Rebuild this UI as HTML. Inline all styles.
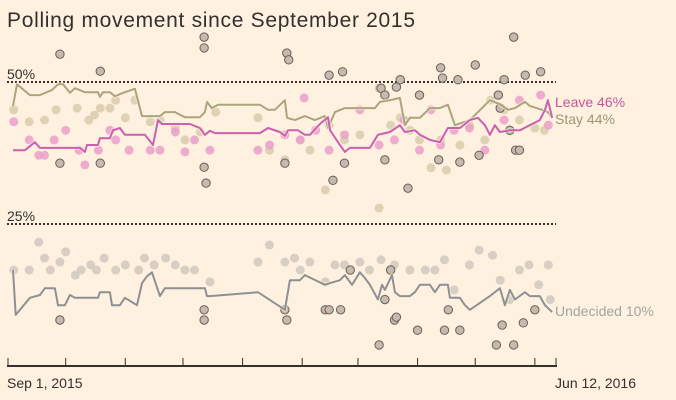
<!DOCTYPE html>
<html><head><meta charset="utf-8"><style>
html,body{margin:0;padding:0;background:#fff1e0;}
svg{display:block;font-family:"Liberation Sans",sans-serif;}
</style></head><body>
<svg id="chart" width="676" height="400" viewBox="0 0 676 400" xmlns="http://www.w3.org/2000/svg">
<rect width="676" height="400" fill="#fff1e0"/>
<text x="7" y="27" font-size="21" fill="#33302e" textLength="408">Polling movement since September 2015</text>
<g id="grid"></g><g id="dots"></g><g id="lines"></g><g id="axis"></g>
</svg>
<script>
// x: days since Sep 1 2015, y: percent
const stayLineDays=[2.6,4.7,11.4,16.6,22.9,26,28.6,32.2,34.8,40,46.8,47.8,49.4,53,55.6,60.8,66,69.7,79,81.6,86.8,92,99.8,102.4,103.5,106,109.2,131,135.2,138.8,144,145.1,149.2,154.4,159.6,164.8,166.4,170,175.2,190.8,193.4,198.6,203.8,206.4,209,214.2,219.4,224.6,228.8,232.4,240.2,250.6,255.8,260,263.6,268.8,271.4,277.7,280.8,283];
const stayLineVals=[45.8,49.6,47.7,47.7,48.6,49.6,49.6,48.1,48.9,48.2,48.2,47.4,48.2,48.2,47.5,48.2,48.8,44,44,44.7,44.7,43.8,43.8,44.7,46.5,45.4,46,46,45.1,45.1,46.8,43.7,43.3,44,43.3,44,41.9,44.7,45.4,45.4,46.5,46.8,47.2,42.4,43.7,43.7,45.4,45.4,46,42.4,43.3,46.8,46.1,45.1,45.4,46.5,45.8,45.1,44.7,43.7];
const leaveLineDays=[2.6,8.8,14,16.6,37.4,40,41.1,46.8,47.8,53,54.6,58.2,60.8,71.2,75.4,78,80.1,94.6,99.8,102.4,105,107.6,131,135.2,141.4,144,145.6,150.8,154.4,157,162.2,166.4,167.5,172.6,175.2,177.8,188.2,192.4,198.6,203.8,206.4,211.6,214.2,219.4,224.6,228.8,235,240.2,244.4,248,250.6,253.2,255.8,261,266.2,271.4,276.6,279.3,280.8,283];
const leaveLineVals=[38,38,39.4,38.4,38.4,37.7,38.9,38.9,40.1,40.1,41.5,41.9,40.7,40.7,38.9,43.3,42.6,42.6,41.9,40.7,41.4,41,41,41.9,41.2,40.5,41.5,41.5,40.7,40.7,42.6,43.8,41.5,38.9,37.7,38.4,38.4,40.7,41.2,42.4,41.2,41.5,40.7,39.8,39.4,41.9,41.9,43.3,43.7,42.4,40.7,42.4,41.2,41.5,41.5,42.4,43.3,45.1,46.8,43.7];
const undLineDays=[2.6,4,11.4,16.6,19.2,24.4,26,29.6,32.2,34.8,46.8,47.8,53,54.1,58.2,60.8,67.1,69.7,72.3,74.9,79,81.6,102.4,103.5,105,130,144,146.6,151.8,154.4,164.8,167.5,172.6,175.2,178.9,183,185.6,188.2,192.4,194.5,196,199.7,201.2,203.8,209,211.6,214.2,219.4,222,224.6,228.8,229.8,235,237.6,240.2,250.6,255.8,258.4,261,263.6,268.8,271.4,276.6,279.3,281.8,283];
const undLineVals=[16.9,9,12,12.5,13.7,13.7,10.7,10.7,12.5,12,12,13,13,10.7,10.7,12,10.7,14.6,15.8,16.5,12.3,13.7,13.7,12.3,12.3,13,9.9,15.1,15.1,16,14.3,14.6,15.1,16,14.3,16.5,15.5,14.3,11.7,14.3,13.4,16,13,12.3,12.3,13,14.3,14.3,13,14.3,14.3,12,12,10.7,9.9,12.3,13.7,10.7,13.4,11.7,13,12.3,12.3,10.7,9.9,9.5];
const stayDotDays=[3,11,19,25,36,42,45,48,53,56,61,66,74,79,87,92,100,108,130,136,144,152,157,167,175,183,193,199,204,209,214,225,235,240,248,251,258,266,274,279,193,220,228,165];
const stayDotVals=[45.1,43,43.3,45.1,45.4,43.3,44.2,45.4,45.4,46.8,43.7,46.8,43,43.3,41.9,39.8,41.2,44.7,43.7,38,36.3,39.8,38,42.4,39.8,40.7,48.9,42.4,43.7,41.5,39.8,39.8,38.9,42.4,39.8,46.8,45.1,43.3,41.9,41.5,27.8,34.9,34.5,31];
const leaveDotDays=[3,11,16,19,24,30,37,40,47,53,56,63,74,79,87,92,97,105,130,136,144,152,154,160,167,175,183,193,201,206,214,220,225,232,240,248,258,266,277,281];
const leaveDotVals=[43,39.8,37.1,37.1,39.8,41.5,38,35.4,38,41.5,39.8,38,38,38,41.2,37.7,39.8,38,38,38.9,40.7,39.8,47.2,41.5,38,40.7,45.1,38.9,39.8,43.3,38,45.1,38.9,41.5,41.9,38,43.3,46.8,47.7,42.4];
const undDotDays=[3,11,16,19,22,27,30,35,38,43,46,50,56,61,68,71,76,82,87,92,97,105,130,136,144,149,152,157,165,170,175,183,188,194,201,209,217,222,227,232,240,245,252,256,261,266,271,276,281,282];
const undDotVals=[16.9,16.9,21.8,19,16.9,18.3,20.1,16,16.9,17.8,16.9,19,16.9,17.8,16.9,19,17.8,19,17.8,16.9,16.9,14.8,18.3,21.3,18.3,19,16.9,18.3,14.8,17.8,17.8,18.3,16.9,18.7,17.8,16.9,16.9,16.9,18.7,13.4,17.8,20.4,19.5,15.1,11.7,16.9,17.8,14.3,17.8,11.7];
const markedDotDays=[27,48,102,102,145,146,167,174,194,196,202,204,214,225,226,234,243,255,258,263,269,277,256,261,264,266,27,48,102,103,144,169,175,196,208,224,235,245,27,102,102,144,145,165,167,173,193,196,201,213,227,229,235,254,257,263,268,274,178,199,202];
const markedDotVals=[54.9,51.9,57.9,56,55.1,53.9,51.2,51.8,48.9,47.7,49.1,50.4,47.7,52.5,50.7,50.4,53,47.7,50.4,57.9,51.2,51.8,45.4,41.5,38,38,35.7,35.7,35,32.2,35.7,32.7,35.7,36.3,31.3,36.3,35.9,37.1,8.1,9.9,8.1,9.9,8.1,9.9,9.9,9.9,3.7,11.7,8.1,6.3,6.3,9.9,6.3,3.7,7.2,3.7,7.6,9.9,16.9,16.9,8.6];
const yTicks=[50,25];
const xLabels=["Sep 1, 2015","Jun 12, 2016"];
const monthTickDays=[30,61,91,122,153,182,213,243,274];

const NS="http://www.w3.org/2000/svg";
const X0=8,X1=556,DMAX=285;
const xs=d=>X0+d*(X1-X0)/DMAX;
const ys=v=>82+(50-v)*5.68;
function mk(tag,attrs,parent){const e=document.createElementNS(NS,tag);for(const k in attrs)e.setAttribute(k,attrs[k]);parent.appendChild(e);return e;}
const grid=document.getElementById('grid'),dots=document.getElementById('dots'),lines=document.getElementById('lines'),axis=document.getElementById('axis');
yTicks.forEach(t=>{
  const l=mk('line',{x1:7,x2:556,y1:ys(t),y2:ys(t),stroke:'#33302e','stroke-width':2,'stroke-dasharray':'2,2'},grid);
  
  
  const tx=mk('text',{x:7,y:ys(t)-3,'font-size':14,fill:'#33302e'},grid);
  tx.textContent=t+'%';
  
  
});
function drawDots(days,vals,fill,stroke,name,r,op){
  days.forEach((d,i)=>{
    const c=mk('circle',{cx:xs(d),cy:ys(vals[i]),r:r,fill:fill,'fill-opacity':op},dots);
    if(stroke){c.setAttribute('stroke',stroke);c.setAttribute('stroke-width',1);}
    
    
  });
}
drawDots(undDotDays,undDotVals,'#d0c9bd',null,'undecided-poll-dot',4.5,0.85);
drawDots(stayDotDays,stayDotVals,'#d9cdab',null,'stay-poll-dot',4.5,0.85);
drawDots(leaveDotDays,leaveDotVals,'#eaa0c9',null,'leave-poll-dot',4.5,0.85);
drawDots(markedDotDays,markedDotVals,'#c4baad','#6b5f56','highlighted-poll-dot',4.2,1);
function drawLine(days,vals,color,name){
  const pts=days.map((d,i)=>xs(d).toFixed(1)+','+ys(vals[i]).toFixed(1)).join(' ');
  const h=mk('polyline',{points:pts,fill:'none',stroke:'#fff1e0','stroke-width':4,'stroke-opacity':0.6,'stroke-linejoin':'round'},lines);
  
  
  const p=mk('polyline',{points:pts,fill:'none',stroke:color,'stroke-width':2,'stroke-linejoin':'round'},lines);
  
  
}
drawLine(undLineDays,undLineVals,'#8e9094','undecided-line');
drawLine(stayLineDays,stayLineVals,'#a9a67d','stay-line');
drawLine(leaveLineDays,leaveLineVals,'#cc5fb0','leave-line');
const labels=[['Leave 46%',107,'#c4559c','leave-label'],['Stay 44%',124,'#9c9873','stay-label'],['Undecided 10%',316,'#a3a3a3','undecided-label']];
labels.forEach(L=>{
  const t=mk('text',{x:555,y:L[1],'font-size':14,fill:L[2]},axis);
  t.textContent=L[0];
  
  
});
const ax=mk('line',{x1:7,x2:557,y1:366,y2:366,stroke:'#33302e','stroke-width':2},axis);


[0,DMAX].concat(monthTickDays).forEach(d=>{
  const t=mk('line',{x1:xs(d),x2:xs(d),y1:358,y2:366,stroke:'#33302e','stroke-width':1},axis);
  
  
});
const l1=mk('text',{x:7,y:388,'font-size':14,fill:'#33302e'},axis);
l1.textContent=xLabels[0];


const l2=mk('text',{x:636,y:388,'font-size':14,fill:'#33302e','text-anchor':'end'},axis);
l2.textContent=xLabels[1];


</script>
</body></html>
